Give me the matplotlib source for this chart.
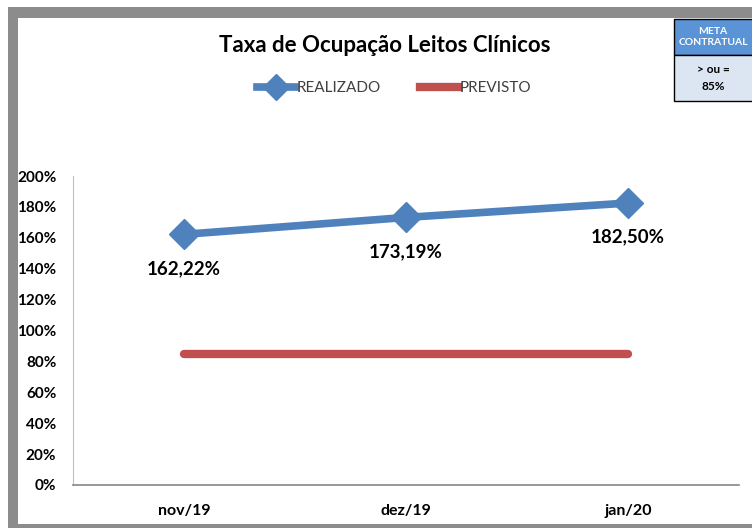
import matplotlib
matplotlib.use("Agg")
import matplotlib.pyplot as plt
from matplotlib.lines import Line2D
from matplotlib.patches import Rectangle

categories = ["nov/19", "dez/19", "jan/20"]
realizado = [162.22, 173.19, 182.50]
previsto = [85, 85, 85]
realizado_labels = ["162,22%", "173,19%", "182,50%"]
yticks = [0, 20, 40, 60, 80, 100, 120, 140, 160, 180, 200]
ytick_labels = [f"{v}%" for v in yticks]

W, H = 752, 528
plt.rcParams['font.family'] = ['Lato', 'DejaVu Sans']
fig = plt.figure(figsize=(W/100, H/100), dpi=100)
fig.patch.set_facecolor("white")

# gray frame
fig.patches.append(Rectangle((8/W, 0), 1, (H-7)/H, transform=fig.transFigure,
                             facecolor="#8c8c8c", edgecolor="none", zorder=-10))
fig.patches.append(Rectangle((18/W, (H-524)/H), 1, (524-18)/H, transform=fig.transFigure,
                             facecolor="white", edgecolor="none", zorder=-9))

ax = fig.add_axes([73/W, (H-485)/H, (739-73)/W, (485-176)/H])
ax.set_facecolor("none")
ax.set_zorder(1)
x = [i + 0.5 for i in range(len(categories))]
ax.plot(x, previsto, color="#c0504d", lw=6, solid_capstyle="round", zorder=2)
ax.plot(x, realizado, color="#4f81bd", lw=5.5, marker="D", markersize=15,
        markeredgecolor="#4f81bd", markerfacecolor="#4f81bd", solid_capstyle="round", zorder=3)
for xi, yi, lab in zip(x, realizado, realizado_labels):
    ax.annotate(lab, (xi, yi), xytext=(0, -34), textcoords="offset pixels",
                ha="center", va="center", fontsize=13.5, fontweight="bold", color="black")

ax.set_xlim(0, 3)
ax.set_ylim(0, 200)
ax.set_yticks(yticks)
ax.set_yticklabels(ytick_labels, fontsize=11, fontweight="bold")
ax.set_xticks(x)
ax.set_xticklabels(categories, fontsize=11.5, fontweight="bold")
ax.tick_params(axis="both", length=0)
ax.tick_params(axis="y", pad=12)
ax.tick_params(axis="x", pad=14)
for s in ["top", "right"]:
    ax.spines[s].set_visible(False)
ax.spines["left"].set_color("#bfbfbf")
ax.spines["bottom"].set_color("#868686")
ax.spines["bottom"].set_linewidth(1.2)

fig.text(385/W, 1 - 45/H, "Taxa de Ocupação Leitos Clínicos", ha="center", va="center",
         fontsize=16, fontweight="bold")

handles = [Line2D([], [], color="#4f81bd", lw=5.5, marker="D", markersize=13),
           Line2D([], [], color="#c0504d", lw=6)]
fig.legend(handles, ["REALIZADO", "PREVISTO"], loc="center",
           bbox_to_anchor=(394/W, 1 - 88/H), ncol=2, frameon=False,
           fontsize=11, handlelength=2.5, handletextpad=0.05, columnspacing=2.6,
           labelcolor="#404040")

# META CONTRATUAL box
bx0 = 674/W
fig.patches.append(Rectangle((bx0, 1 - 55/H), 1, (55-19)/H, transform=fig.transFigure,
                             facecolor="#5a94d6", edgecolor="black", lw=1, zorder=5))
fig.patches.append(Rectangle((bx0, 1 - 101/H), 1, (101-55)/H, transform=fig.transFigure,
                             facecolor="#dce6f2", edgecolor="black", lw=1, zorder=5))
fig.text(713/W, 1 - 37/H, "META\nCONTRATUAL", ha="center", va="center", fontsize=7.5,
         fontweight="bold", color="white", linespacing=1.4, zorder=6)
fig.text(713/W, 1 - 78/H, "> ou =\n85%", ha="center", va="center", fontsize=8.5,
         fontweight="bold", color="black", linespacing=1.6, zorder=6)

fig.savefig("out.png", dpi=100)
